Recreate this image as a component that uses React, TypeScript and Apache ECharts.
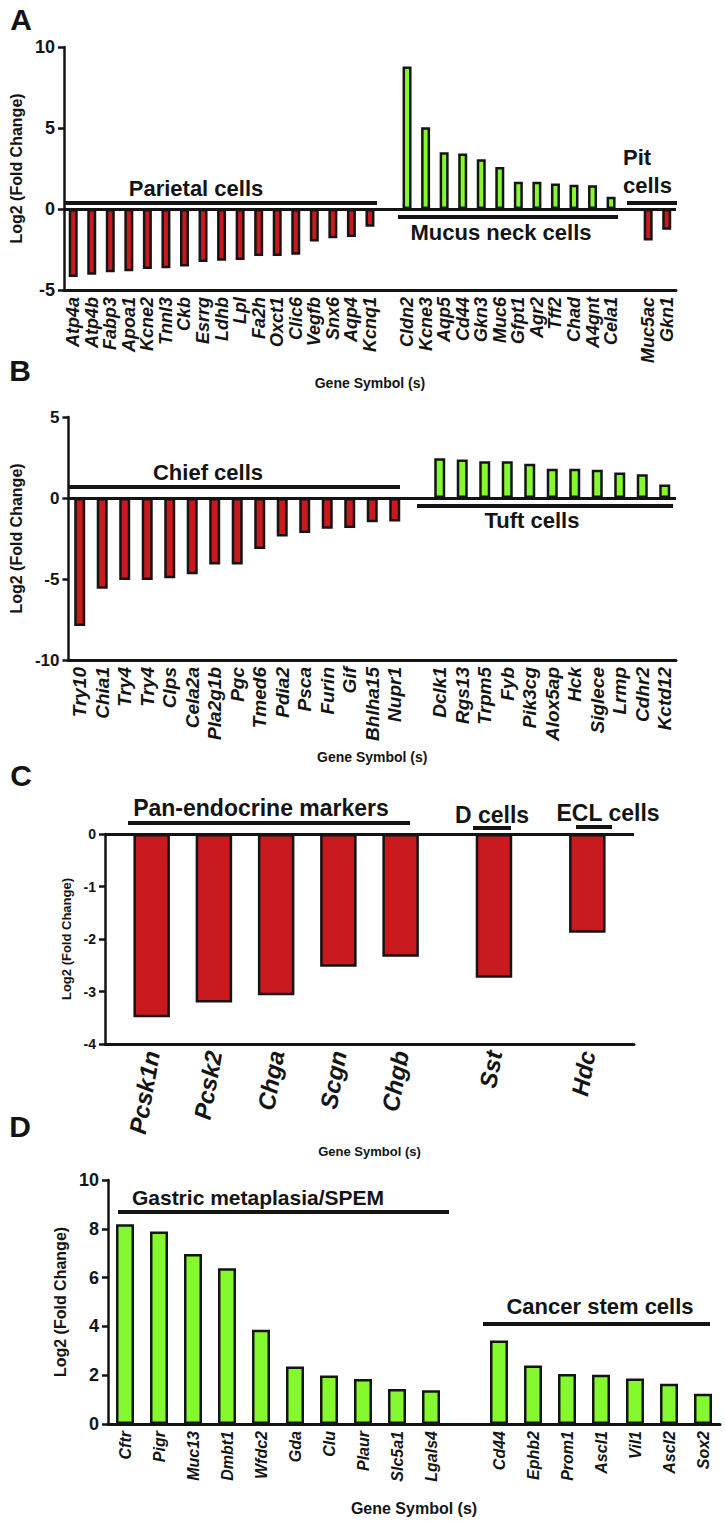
import React, { useEffect, useRef } from 'react';
import * as echarts from 'echarts';

const RED = '#C8191F';
const GREEN = '#84F92E';
const INK = '#141414';
const FONT = "'Liberation Sans', Arial, Helvetica, sans-serif";

// ---------- Panel A ----------
const parietalGenes = ['Atp4a', 'Atp4b', 'Fabp3', 'Apoa1', 'Kcne2', 'Tnnl3', 'Ckb', 'Esrrg', 'Ldhb', 'Lpl', 'Fa2h', 'Oxct1', 'Clic6', 'Vegfb', 'Snx6', 'Aqp4', 'Kcnq1'];
const parietalValues = [-4.2, -4.06, -3.9, -3.85, -3.7, -3.65, -3.55, -3.27, -3.2, -3.15, -2.9, -2.9, -2.83, -2.0, -1.8, -1.73, -1.1];
const mucusNeckGenes = ['Cldn2', 'Kcne3', 'Aqp5', 'Cd44', 'Gkn3', 'Muc6', 'Gfpt1', 'Agr2', 'Tff2', 'Chad', 'A4gnt', 'Cela1'];
const mucusNeckValues = [8.8, 5.05, 3.5, 3.43, 3.07, 2.6, 1.68, 1.68, 1.57, 1.5, 1.47, 0.75];
const pitGenes = ['Muc5ac', 'Gkn1'];
const pitValues = [-1.95, -1.28];
const yTicksA = [-5, 0, 5, 10];

// ---------- Panel B ----------
const chiefGenes = ['Try10', 'Chia1', 'Try4', 'Try4', 'Clps', 'Cela2a', 'Pla2g1b', 'Pgc', 'Tmed6', 'Pdia2', 'Psca', 'Furin', 'Gif', 'Bhlha15', 'Nupr1'];
const chiefValues = [-7.9, -5.6, -5.06, -5.06, -4.95, -4.7, -4.1, -4.1, -3.15, -2.37, -2.16, -1.9, -1.85, -1.5, -1.45];
const tuftGenes = ['Dclk1', 'Rgs13', 'Trpm5', 'Fyb', 'Pik3cg', 'Alox5ap', 'Hck', 'Siglece', 'Lrmp', 'Cdhr2', 'Kctd12'];
const tuftValues = [2.45, 2.37, 2.27, 2.27, 2.12, 1.81, 1.81, 1.75, 1.58, 1.46, 0.84];
const yTicksB = [-10, -5, 0, 5];

// ---------- Panel C ----------
const panEndocrineGenes = ['Pcsk1n', 'Pcsk2', 'Chga', 'Scgn', 'Chgb'];
const panEndocrineValues = [-3.49, -3.21, -3.07, -2.53, -2.34];
const dCellGenes = ['Sst'];
const dCellValues = [-2.74];
const eclCellGenes = ['Hdc'];
const eclCellValues = [-1.88];
const yTicksC = [-4, -3, -2, -1, 0];

// ---------- Panel D ----------
const spemGenes = ['Cftr', 'Pigr', 'Muc13', 'Dmbt1', 'Wfdc2', 'Gda', 'Clu', 'Plaur', 'Slc5a1', 'Lgals4'];
const spemValues = [8.19, 7.89, 6.97, 6.38, 3.86, 2.36, 1.99, 1.84, 1.43, 1.38];
const cancerStemGenes = ['Cd44', 'Ephb2', 'Prom1', 'Ascl1', 'Vil1', 'Ascl2', 'Sox2'];
const cancerStemValues = [3.42, 2.4, 2.05, 2.02, 1.86, 1.65, 1.24];
const yTicksD = [0, 2, 4, 6, 8, 10];

type Group = { genes: string[]; values: number[] };

function buildAxis(groups: Group[], lead: number, between: number, gap: number, trail: number) {
  const cats: string[] = [];
  const vals: (number | null)[] = [];
  const pad = (n: number) => {
    for (let i = 0; i < n; i++) {
      cats.push('');
      vals.push(null);
    }
  };
  pad(lead);
  groups.forEach((g, gi) => {
    if (gi > 0) pad(gap);
    g.genes.forEach((name, i) => {
      if (i > 0) pad(between);
      cats.push(name);
      vals.push(g.values[i]);
    });
  });
  pad(trail);
  return { cats, vals };
}

const axisA = buildAxis(
  [
    { genes: parietalGenes, values: parietalValues },
    { genes: mucusNeckGenes, values: mucusNeckValues },
    { genes: pitGenes, values: pitValues },
  ],
  0, 0, 1, 0
);
const axisB = buildAxis(
  [
    { genes: chiefGenes, values: chiefValues },
    { genes: tuftGenes, values: tuftValues },
  ],
  0, 0, 1, 0
);
const axisC = buildAxis(
  [
    { genes: panEndocrineGenes, values: panEndocrineValues },
    { genes: dCellGenes, values: dCellValues },
    { genes: eclCellGenes, values: eclCellValues },
  ],
  1, 1, 2, 1
);
const axisD = buildAxis(
  [
    { genes: spemGenes, values: spemValues },
    { genes: cancerStemGenes, values: cancerStemValues },
  ],
  0, 0, 1, 0
);

const notSpacer = (_i: number, v: string) => v !== '';

function makeX(gridIndex: number, cats: string[], labelSize: number, rotate: number, nameGap: number, nameSize: number) {
  return {
    gridIndex,
    type: 'category',
    data: cats,
    position: 'bottom',
    axisLine: { onZero: false, lineStyle: { color: INK, width: 3 } },
    axisTick: { alignWithLabel: true, interval: notSpacer, length: 5, lineStyle: { color: INK, width: 2 } },
    axisLabel: {
      interval: 0,
      rotate,
      fontStyle: 'italic',
      fontWeight: 'bold',
      fontSize: labelSize,
      fontFamily: FONT,
      color: INK,
      margin: 7,
    },
    splitLine: { show: false },
    name: 'Gene Symbol (s)',
    nameLocation: 'middle',
    nameGap,
    nameTextStyle: { fontWeight: 'bold', fontSize: nameSize, fontFamily: FONT, color: INK },
  };
}

function makeY(gridIndex: number, ticks: number[], labelSize: number, nameGap: number, nameSize: number) {
  return {
    gridIndex,
    type: 'value',
    min: ticks[0],
    max: ticks[ticks.length - 1],
    interval: ticks[1] - ticks[0],
    axisLine: { show: true, lineStyle: { color: INK, width: 2.5 } },
    axisTick: { show: true, length: 6, lineStyle: { color: INK, width: 2.5 } },
    splitLine: { show: false },
    axisLabel: { fontWeight: 'bold', fontSize: labelSize, fontFamily: FONT, color: INK, margin: 9 },
    name: 'Log2 (Fold Change)',
    nameLocation: 'middle',
    nameRotate: 90,
    nameGap,
    nameTextStyle: { fontWeight: 'bold', fontSize: nameSize, fontFamily: FONT, color: INK },
  };
}

const zeroLine = {
  silent: true,
  symbol: 'none',
  label: { show: false },
  lineStyle: { color: INK, width: 3, type: 'solid' },
  data: [{ yAxis: 0 }],
};

function makeSeries(idx: number, vals: (number | null)[], barWidth: number, withZero: boolean) {
  return {
    type: 'bar',
    xAxisIndex: idx,
    yAxisIndex: idx,
    data: vals,
    barWidth,
    itemStyle: {
      color: (p: any) => (p.value < 0 ? RED : GREEN),
      borderColor: INK,
      borderWidth: 2.5,
    },
    markLine: withZero ? zeroLine : undefined,
  };
}

function txt(text: string, x: number, y: number, size: number, align = 'center', extra: any = {}) {
  return {
    type: 'text',
    x,
    y,
    style: {
      text,
      fill: INK,
      fontSize: size,
      fontWeight: 'bold',
      fontFamily: FONT,
      align,
      textAlign: align,
      verticalAlign: 'middle',
      textVerticalAlign: 'middle',
      ...extra,
    },
  };
}

function hline(x1: number, x2: number, y: number) {
  return {
    type: 'line',
    shape: { x1, y1: y, x2, y2: y },
    style: { stroke: INK, lineWidth: 4 },
  };
}

export default function App() {
  const ref = useRef<HTMLDivElement>(null);
  useEffect(() => {
    if (!ref.current) return;
    const chart = echarts.init(ref.current, undefined, { renderer: 'svg' });
    chart.setOption({
      animation: false,
      backgroundColor: '#ffffff',
      textStyle: { fontFamily: FONT },
      grid: [
        { left: 55, top: 47, width: 621, height: 243 },
        { left: 62, top: 417, width: 614, height: 243 },
        { left: 105, top: 834, width: 529, height: 210 },
        { left: 108, top: 1180, width: 612, height: 244 },
      ],
      xAxis: [
        makeX(0, axisA.cats, 18, 90, 86, 14),
        makeX(1, axisB.cats, 19, 90, 90, 14),
        makeX(2, axisC.cats, 24, 80, 101, 13),
        makeX(3, axisD.cats, 16, 90, 76, 16),
      ],
      yAxis: [
        makeY(0, yTicksA, 18, 35, 16),
        makeY(1, yTicksB, 17, 42, 16),
        makeY(2, yTicksC, 14, 28, 13),
        makeY(3, yTicksD, 18, 38, 16),
      ],
      series: [
        makeSeries(0, axisA.vals, 9, true),
        makeSeries(1, axisB.vals, 11, true),
        makeSeries(2, axisC.vals, 36.5, true),
        makeSeries(3, axisD.vals, 18, false),
      ],
      graphic: [
        txt('A', 21, 19, 30),
        txt('B', 20, 370, 30),
        txt('C', 21, 775, 30),
        txt('D', 20, 1126, 30),
        // Panel A groups
        txt('Parietal cells', 196, 188, 22),
        hline(65, 377, 203),
        txt('Mucus neck cells', 501, 232, 22),
        hline(398, 618, 217),
        txt('Pit\ncells', 623, 171, 22, 'left', { lineHeight: 28 }),
        hline(627, 677, 203),
        // Panel B groups
        txt('Chief cells', 208, 472, 22),
        hline(68, 400, 487),
        txt('Tuft cells', 532, 520, 22),
        hline(417, 673, 506),
        // Panel C groups
        txt('Pan-endocrine markers', 261, 808, 23),
        hline(128, 410, 823),
        txt('D cells', 492, 815, 23),
        hline(473, 511, 828),
        txt('ECL cells', 608, 813, 23),
        hline(576, 612, 827),
        // Panel D groups
        txt('Gastric metaplasia/SPEM', 258, 1197, 21),
        hline(118, 449, 1212),
        txt('Cancer stem cells', 600, 1306, 22),
        hline(483, 710, 1324),
      ],
    });
    return () => chart.dispose();
  }, []);
  return (
    <div
      ref={ref}
      style={{ position: 'absolute', left: 0, top: 0, width: 726, height: 1522, background: '#fff' }}
    />
  );
}
